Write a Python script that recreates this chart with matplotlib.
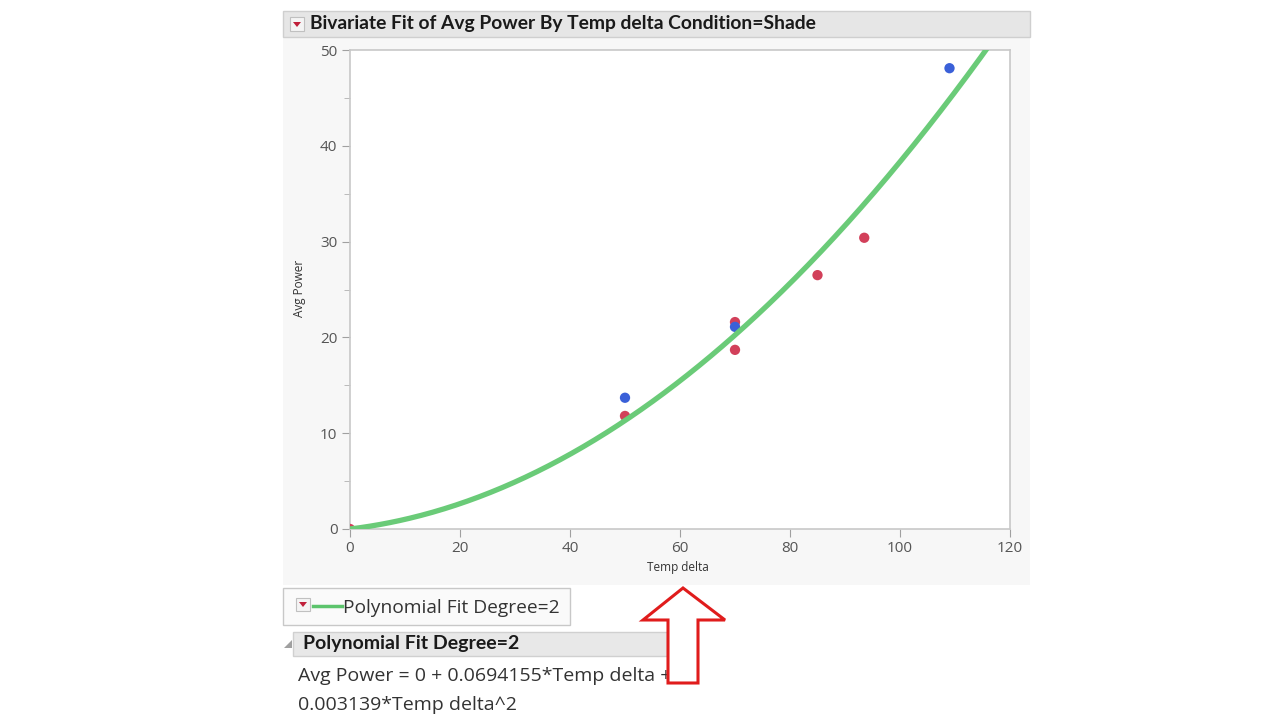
import numpy as np
import matplotlib
matplotlib.use("Agg")
import matplotlib.pyplot as plt
from matplotlib.patches import Rectangle, Polygon

# ------------ data ------------
red_x = [0, 50, 70, 70, 85, 93.5]
red_y = [0, 11.8, 21.6, 18.7, 26.5, 30.4]
blue_x = [50, 70, 109]
blue_y = [13.7, 21.1, 48.1]

# polynomial fit shown in the report
fit_b0 = 0.0
fit_b1 = 0.0694155
fit_b2 = 0.003139

x_ticks = [0, 20, 40, 60, 80, 100, 120]
y_ticks = [0, 10, 20, 30, 40, 50]

title = "Bivariate Fit of Avg Power By Temp delta Condition=Shade"
fit_name = "Polynomial Fit Degree=2"
eq_line1 = "Avg Power = 0 + 0.0694155*Temp delta +"
eq_line2 = "0.003139*Temp delta^2"

W, H = 1276, 717
fig = plt.figure(figsize=(W / 100, H / 100), dpi=100)
fig.patch.set_facecolor("white")

# ------------ background "report" layer in pixel coords ------------
bg = fig.add_axes([0, 0, 1, 1], zorder=0)
bg.set_xlim(0, W)
bg.set_ylim(H, 0)
bg.axis("off")

bg.add_patch(Rectangle((283, 37), 747, 548, fc="#f7f7f7", ec="none"))
# title bar
bg.add_patch(Rectangle((283, 11), 747, 26, fc="#e6e6e6", ec="#cfcfcf", lw=1))
bg.add_patch(Rectangle((290, 17), 14, 14, fc="#f4f4f4", ec="#c0c0c0", lw=0.8))
bg.add_patch(Polygon([(293, 22), (301, 22), (297, 27)], closed=True, fc="#c0203a", ec="none"))
bg.text(310, 24, title, fontsize=13.9, fontweight="bold", family="Lato",
        va="center", ha="left", color="#1a1a1a")

# axis titles
bg.text(300, 288, "Avg Power", rotation=90, fontsize=8.5, family="Open Sans",
        va="center", ha="center", color="#333333")
bg.text(678, 568, "Temp delta", fontsize=8.5, family="Open Sans",
        va="center", ha="center", color="#333333")

# legend box
bg.add_patch(Rectangle((283, 588), 287, 37, fc="#fafafa", ec="#c8c8c8", lw=1))
bg.add_patch(Rectangle((296, 598), 14, 13, fc="#f4f4f4", ec="#c0c0c0", lw=0.8))
bg.add_patch(Polygon([(299, 602), (307, 602), (303, 607)], closed=True, fc="#c0203a", ec="none"))
bg.plot([313, 342], [606, 606], color="#5cc46c", lw=2.5)
bg.text(343, 608, fit_name, fontsize=13.8, family="Open Sans",
        va="center", ha="left", color="#333333")

# fit report header
bg.add_patch(Rectangle((293, 632), 387, 24, fc="#e8e8e8", ec="#d0d0d0", lw=1))
bg.add_patch(Polygon([(284, 648), (292, 640), (292, 648)], closed=True, fc="#a0a0a0", ec="none"))
bg.text(303, 644, fit_name, fontsize=14, fontweight="bold", family="Lato",
        va="center", ha="left", color="#1a1a1a")
bg.text(298, 676, eq_line1, fontsize=14, family="Open Sans",
        va="center", ha="left", color="#333333")
bg.text(298, 705, eq_line2, fontsize=14, family="Open Sans",
        va="center", ha="left", color="#333333")

# red annotation arrow
arrow = Polygon([(683, 588), (725, 620), (698, 620), (698, 683),
                 (668, 683), (668, 620), (643, 620)],
                closed=True, fc="white", ec="#e01c1c", lw=2.2, zorder=5)
bg.add_patch(arrow)

# ------------ the plot itself ------------
ax = fig.add_axes([350 / W, 1 - 529 / H, 660 / W, 479 / H], zorder=1)
ax.set_facecolor("white")
ax.set_xlim(0, 120)
ax.set_ylim(0, 50)

xs = np.linspace(0, 120, 400)
ys = fit_b0 + fit_b1 * xs + fit_b2 * xs ** 2
ax.scatter(red_x, red_y, s=55, color="#d2405a", edgecolors="none", zorder=3)
ax.scatter(blue_x, blue_y, s=55, color="#3a60d8", edgecolors="none", zorder=3)
ax.plot(xs, ys, color="#6acb78", lw=3.8, zorder=4, solid_capstyle="butt")

ax.set_xticks(x_ticks)
ax.set_yticks(y_ticks)
ax.set_yticks(np.arange(5, 50, 10), minor=True)
for sp in ax.spines.values():
    sp.set_color("#c8c8c8")
    sp.set_linewidth(1.2)
ax.tick_params(axis="both", which="major", length=6, color="#a0a0a0",
               labelsize=11, labelcolor="#555555", pad=3)
ax.tick_params(axis="y", which="minor", length=4, color="#b0b0b0")
for lbl in ax.get_xticklabels() + ax.get_yticklabels():
    lbl.set_family("Open Sans")

fig.savefig("out.png", dpi=100, facecolor=fig.get_facecolor())
